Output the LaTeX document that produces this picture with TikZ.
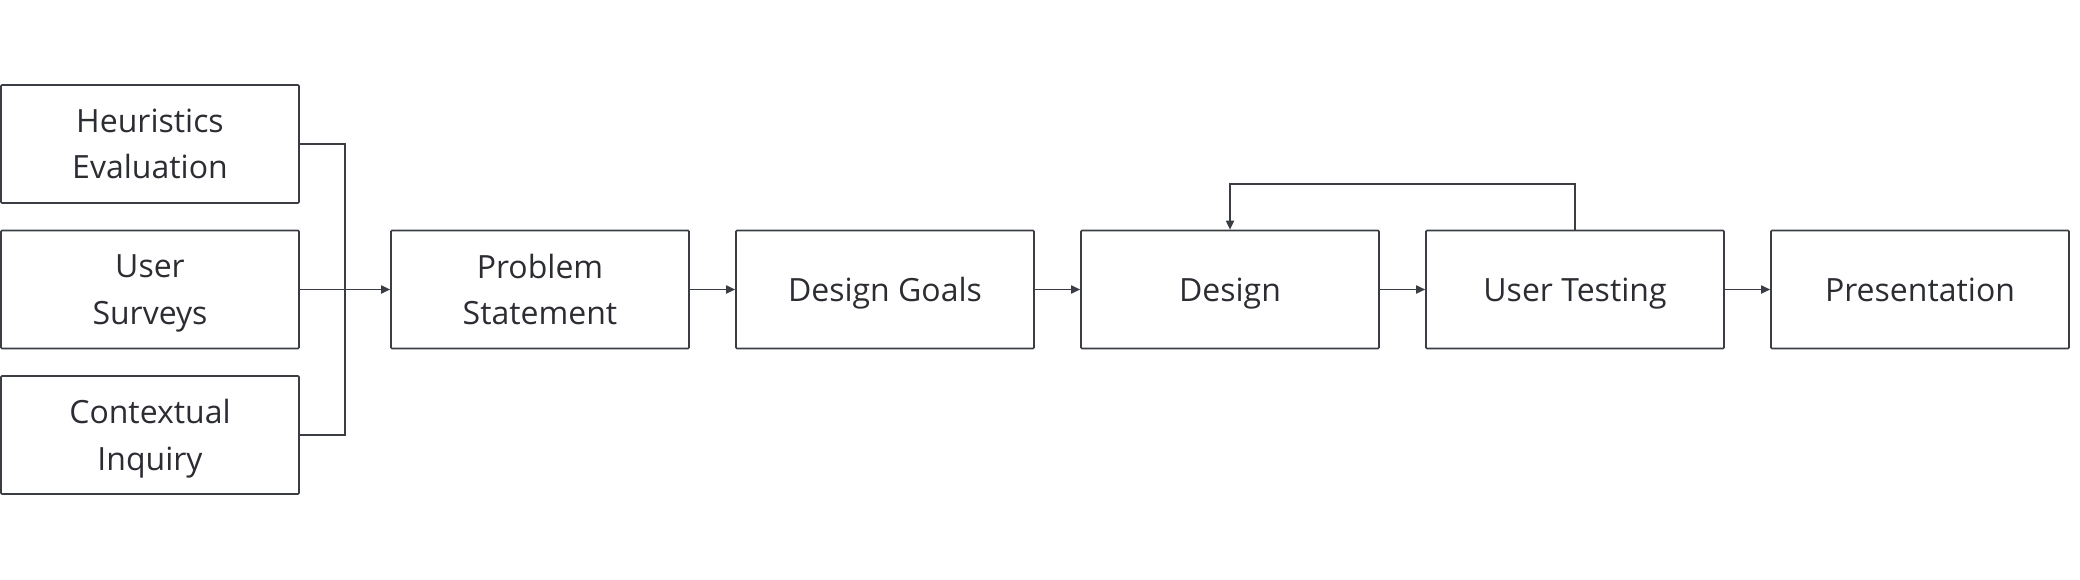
\documentclass[tikz,border=0pt]{standalone}
\usepackage{fontspec}
\setmainfont{Open Sans}
\usetikzlibrary{arrows.meta}
\definecolor{ink}{HTML}{2B2D33}
\definecolor{linec}{HTML}{3A3D44}
\begin{document}
\begin{tikzpicture}[x=1pt,y=-1pt,
  box/.style={draw=linec,line width=1.6pt,rounded corners=1pt,minimum width=298pt,minimum height=118pt,
    align=center,text=ink,font=\fontsize{32}{46.5}\selectfont,inner sep=0pt,text depth=0pt},
  conn/.style={draw=linec,line width=1.7pt},
  arr/.style={conn,-{Triangle[length=9pt,width=8pt]}}]
\useasboundingbox (0,0) rectangle (2080,580);
\node[box] (h) at (150,144) {Heuristics\\Evaluation};
\node[box] (s) at (150,289.5) {User\\Surveys};
\node[box] (c) at (150,435) {Contextual\\Inquiry};
\node[box] (p) at (540,289.5) {Problem\\Statement};
\node[box] (g) at (885,289.5) {Design Goals};
\node[box] (d) at (1230,289.5) {Design};
\node[box] (t) at (1575,289.5) {User Testing};
\node[box] (r) at (1920,289.5) {Presentation};
\coordinate (j) at (345,289.5);
\coordinate (fb) at (1575,184);
\draw[conn] (h.east) -| (j);
\draw[conn] (c.east) -| (j);
\draw[arr] (s.east) -- (p.west);
\draw[arr] (p) -- (g);
\draw[arr] (g) -- (d);
\draw[arr] (d) -- (t);
\draw[arr] (t) -- (r);
\draw[arr] (t.north) -- (fb) -| (d.north);
\end{tikzpicture}
\end{document}
